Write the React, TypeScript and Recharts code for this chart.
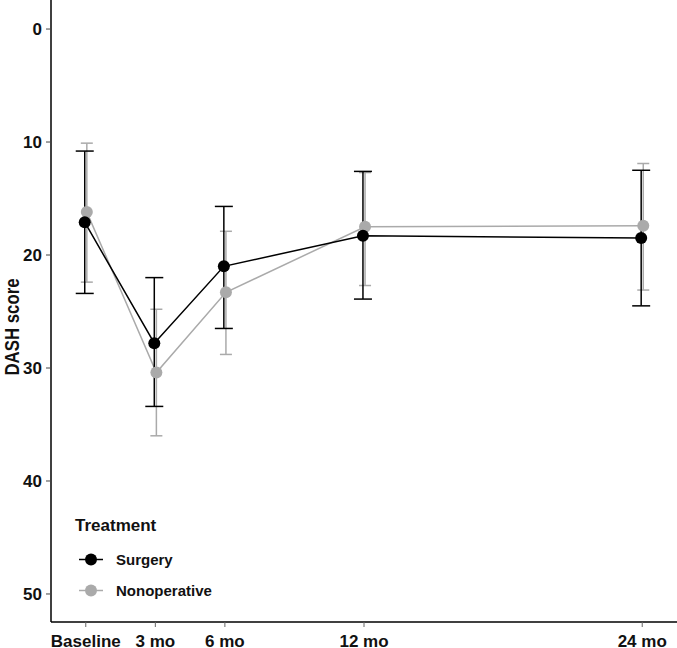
import React from "react";
import {
  ComposedChart,
  Line,
  XAxis,
  YAxis,
  ErrorBar,
  Legend,
} from "recharts";

// time points (months) and their axis labels
const months = [0, 3, 6, 12, 24];
const tickLabels = ["Baseline", "3 mo", "6 mo", "12 mo", "24 mo"];
const yTicks = [0, 10, 20, 30, 40, 50];

// DASH score mean with 95% CI
const surgeryMean = [17.1, 27.8, 21.0, 18.3, 18.5];
const surgeryLow = [10.8, 22.0, 15.7, 12.6, 12.5];
const surgeryHigh = [23.4, 33.4, 26.5, 23.9, 24.5];

const nonopMean = [16.2, 30.4, 23.3, 17.5, 17.4];
const nonopLow = [10.1, 24.8, 17.9, 12.7, 11.9];
const nonopHigh = [22.4, 36.0, 28.8, 22.7, 23.1];

const FONT = "'Liberation Sans', Arial, sans-serif";
const GREY = "#aaaaaa";
const DODGE = 0.045;

const build = (mean: number[], low: number[], high: number[], shift: number) =>
  months.map((m, i) => ({
    x: m + shift,
    y: mean[i],
    err: [mean[i] - low[i], high[i] - mean[i]],
  }));

const surgery = build(surgeryMean, surgeryLow, surgeryHigh, -DODGE);
const nonop = build(nonopMean, nonopLow, nonopHigh, DODGE);

const legendItems = [
  { name: "Surgery", color: "#000000" },
  { name: "Nonoperative", color: GREY },
];

const renderLegend = () => (
  <div style={{ fontFamily: FONT, fontWeight: "bold", color: "#111" }}>
    <div style={{ fontSize: 17, lineHeight: "20px", marginBottom: 8 }}>Treatment</div>
    {legendItems.map((item) => (
      <div
        key={item.name}
        style={{ display: "flex", alignItems: "center", height: 31, fontSize: 15 }}
      >
        <svg width={24} height={31} style={{ marginLeft: 4, marginRight: 13 }}>
          <line x1={0} x2={24} y1={15.5} y2={15.5} stroke={item.color} strokeWidth={1.5} />
          <circle cx={12} cy={15.5} r={6} fill={item.color} />
        </svg>
        <span>{item.name}</span>
      </div>
    ))}
  </div>
);

// rotated axis title, a bit condensed like the original
const YLabel = (props: any) => {
  const vb = props.viewBox || { y: 0, height: 622 };
  const cy = vb.y + vb.height / 2 + 16;
  return (
    <text
      transform={`translate(18.5, ${cy}) rotate(-90) scale(0.8, 1)`}
      textAnchor="middle"
      fontFamily={FONT}
      fontWeight="bold"
      fontSize={21}
      fill="#111"
    >
      DASH score
    </text>
  );
};

export default function App() {
  const tickStyle = { fill: "#111", fontSize: 17, fontWeight: "bold", fontFamily: FONT };
  return (
    <div style={{ position: "absolute", left: 0, top: 0, background: "#fff" }}>
      <ComposedChart
        width={677}
        height={648}
        margin={{ top: 0, right: 0, bottom: 0, left: 0 }}
      >
        <XAxis
          type="number"
          dataKey="x"
          domain={[-1.5, 25.5]}
          allowDataOverflow
          ticks={months}
          tickFormatter={(v: number) => tickLabels[months.indexOf(v)] ?? ""}
          height={26}
          tickSize={5}
          tickMargin={8}
          axisLine={{ stroke: "#000", strokeWidth: 1.5 }}
          tickLine={{ stroke: "#666", strokeWidth: 1 }}
          tick={tickStyle}
          interval={0}
        />
        <YAxis
          type="number"
          reversed
          domain={[-2.57, 52.48]}
          allowDataOverflow
          ticks={yTicks}
          width={51}
          tickSize={5}
          tickMargin={4}
          axisLine={{ stroke: "#000", strokeWidth: 1.5 }}
          tickLine={{ stroke: "#444", strokeWidth: 1 }}
          tick={tickStyle}
          interval={0}
          label={{ content: <YLabel /> }}
        />
        <Legend
          layout="vertical"
          align="center"
          verticalAlign="middle"
          content={renderLegend}
          wrapperStyle={{ left: 75, top: 516, width: "auto" }}
        />
        <Line
          data={nonop}
          dataKey="y"
          name="Nonoperative"
          stroke={GREY}
          strokeWidth={1.5}
          dot={{ r: 6, fill: GREY, stroke: GREY, strokeWidth: 0 }}
          activeDot={false}
          isAnimationActive={false}
        >
          <ErrorBar
            dataKey="err"
            direction="y"
            width={6}
            stroke={GREY}
            strokeWidth={1.5}
            isAnimationActive={false}
          />
        </Line>
        <Line
          data={surgery}
          dataKey="y"
          name="Surgery"
          stroke="#000"
          strokeWidth={1.5}
          dot={{ r: 6, fill: "#000", stroke: "#000", strokeWidth: 0 }}
          activeDot={false}
          isAnimationActive={false}
        >
          <ErrorBar
            dataKey="err"
            direction="y"
            width={9}
            stroke="#000"
            strokeWidth={1.5}
            isAnimationActive={false}
          />
        </Line>
      </ComposedChart>
    </div>
  );
}
